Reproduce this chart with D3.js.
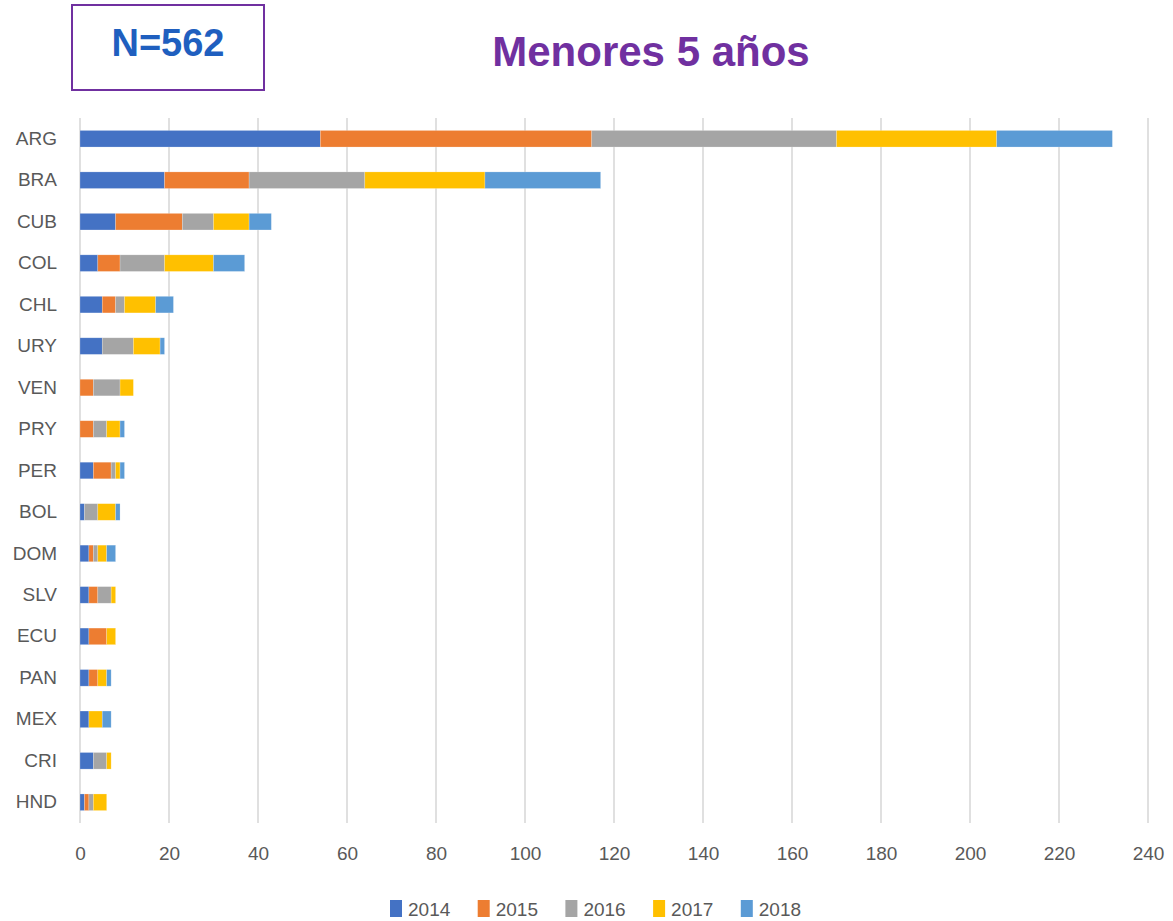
<!DOCTYPE html>
<html><head><meta charset="utf-8">
<script src="https://cdn.jsdelivr.net/npm/d3@7"></script>
<style>body{margin:0;background:#fff}svg{display:block}</style>
</head><body>
<script>
const categories = ["ARG","BRA","CUB","COL","CHL","URY","VEN","PRY","PER","BOL","DOM","SLV","ECU","PAN","MEX","CRI","HND"];
const years = ["2014","2015","2016","2017","2018"];
const v2014 = [54,19,8,4,5,5,0,0,3,1,2,2,2,2,2,3,1];
const v2015 = [61,19,15,5,3,0,3,3,4,0,1,2,4,2,0,0,1];
const v2016 = [55,26,7,10,2,7,6,3,1,3,1,3,0,0,0,3,1];
const v2017 = [36,27,8,11,7,6,3,3,1,4,2,1,2,2,3,1,3];
const v2018 = [26,26,5,7,4,1,0,1,1,1,2,0,0,1,2,0,0];
const xTicks = [0,20,40,60,80,100,120,140,160,180,200,220,240];
const colors = ["#4472C4","#ED7D31","#A5A5A5","#FFC000","#5B9BD5"];
const titleText = "Menores 5 años";
const nText = "N=562";

const W=1173,H=921;
const font = "'Liberation Sans',Arial,sans-serif";
const svg=d3.select("body").append("svg").attr("width",W).attr("height",H);

const rows = categories.map((c,i)=>{const o={cat:c};years.forEach((y,k)=>o[y]=[v2014,v2015,v2016,v2017,v2018][k][i]);return o;});
const stack=d3.stack().keys(years)(rows);

const x=d3.scaleLinear().domain([0,240]).range([80,1148]);
const y=d3.scaleBand().domain(categories).range([118,823]).paddingInner(0.6).paddingOuter(0.3);

// gridlines
svg.append("g").selectAll("line").data(xTicks).join("line")
 .attr("x1",d=>x(d)).attr("x2",d=>x(d)).attr("y1",118).attr("y2",823)
 .attr("stroke","#d9d9d9").attr("stroke-width",1.6);

// bars
svg.append("g").selectAll("g").data(stack).join("g").attr("fill",(d,i)=>colors[i])
 .selectAll("rect").data(d=>d.map(p=>({p,cat:p.data.cat}))).join("rect")
 .attr("x",d=>x(d.p[0])).attr("width",d=>Math.max(0,x(d.p[1])-x(d.p[0])))
 .attr("y",d=>y(d.cat)).attr("height",y.bandwidth())
 .attr("stroke","#fff").attr("stroke-opacity",0.35).attr("stroke-width",0.6);

// x axis
const xa=svg.append("g").attr("transform","translate(0,823)")
 .call(d3.axisBottom(x).tickValues(xTicks).tickSize(0).tickPadding(24));
xa.select(".domain").remove();
xa.selectAll("text").attr("font-family",font).attr("font-size",19).attr("fill","#595959");

// y axis
const ya=svg.append("g").attr("transform","translate(80,0)")
 .call(d3.axisLeft(y).tickSize(0).tickPadding(23));
ya.select(".domain").remove();
ya.selectAll("text").attr("font-family",font).attr("font-size",19).attr("fill","#595959");

// title
svg.append("text").attr("x",651).attr("y",66).attr("text-anchor","middle")
 .attr("font-family",font).attr("font-weight","bold").attr("font-size",42).attr("fill","#7030A0").text(titleText);

// N box
svg.append("rect").attr("x",72).attr("y",5).attr("width",192).attr("height",85)
 .attr("fill","none").attr("stroke","#7030A0").attr("stroke-width",2);
svg.append("text").attr("x",168).attr("y",56).attr("text-anchor","middle")
 .attr("font-family",font).attr("font-weight","bold").attr("font-size",38).attr("fill","#1F5FBF").text(nText);

// legend
const lg=svg.append("g").selectAll("g").data(years).join("g")
 .attr("transform",(d,i)=>`translate(${390+i*87.7},900)`);
lg.append("rect").attr("width",12).attr("height",17).attr("fill",(d,i)=>colors[i]);
lg.append("text").attr("x",18).attr("y",16).attr("font-family",font).attr("font-size",19)
 .attr("fill","#595959").text(d=>d);
</script>
</body></html>
